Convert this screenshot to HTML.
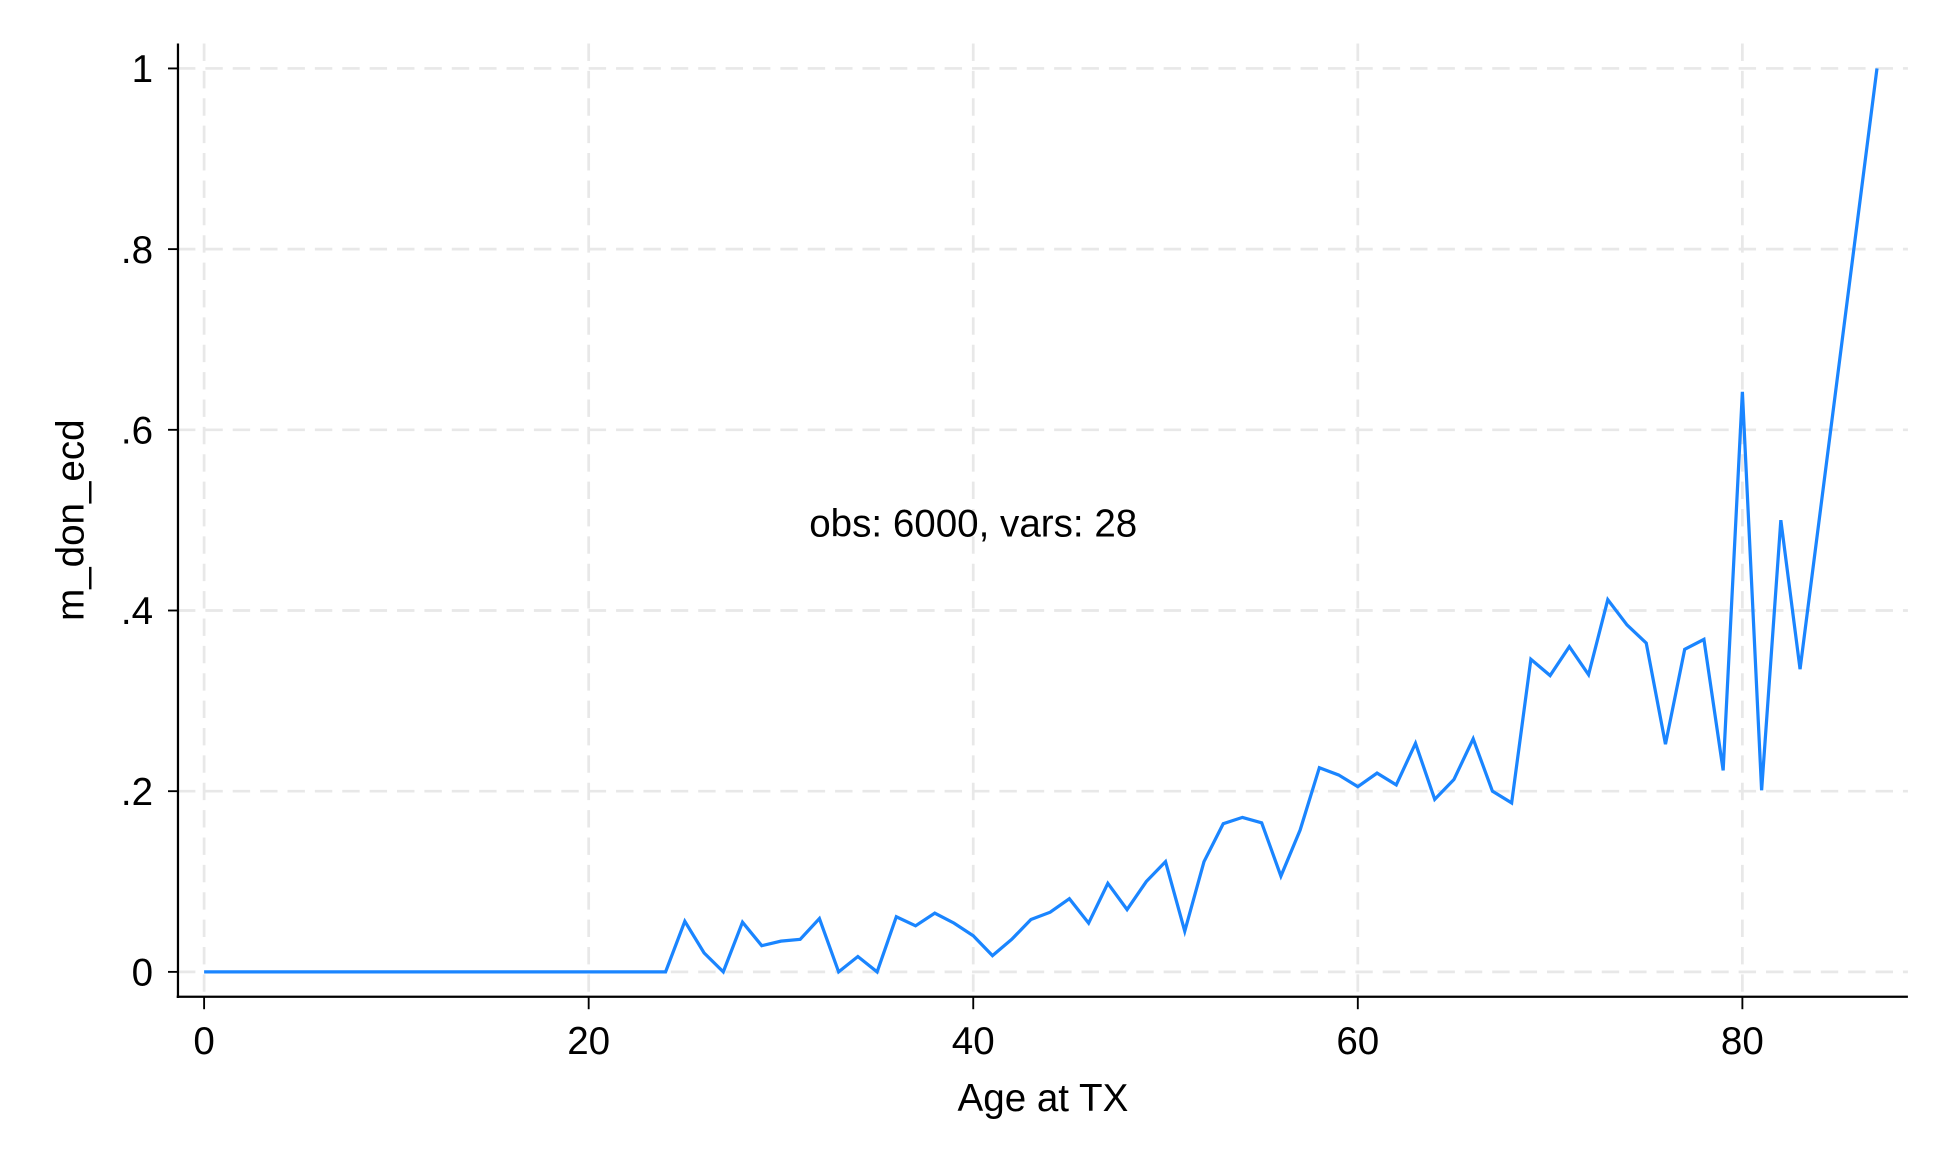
<!DOCTYPE html>
<html><head><meta charset="utf-8"><style>
html,body{margin:0;padding:0;background:#fff;}
svg{display:block;}
text{font-family:"Liberation Sans",Arial,sans-serif;fill:#000;}
</style></head><body>
<svg id="chart" width="1944" height="1166" viewBox="0 0 1562 937" preserveAspectRatio="none" xmlns="http://www.w3.org/2000/svg">
<g id="grid"></g>
<g id="axes"></g>
<path id="series" fill="none" stroke="#1a85ff" stroke-width="2.6" stroke-linejoin="miter"></path>
<text x="782" y="431" font-size="31" text-anchor="middle">obs: 6000, vars: 28</text>
<text x="838" y="893" font-size="31" text-anchor="middle">Age at TX</text>
<text x="0" y="0" font-size="31" text-anchor="middle" transform="translate(67,418) rotate(-90)">m_don_ecd</text>
</svg>
<script>
const ages = [0,1,2,3,4,5,6,7,8,9,10,11,12,13,14,15,16,17,18,19,20,21,22,23,24,25,26,27,28,29,30,31,32,33,34,35,36,37,38,39,40,41,42,43,44,45,46,47,48,49,50,51,52,53,54,55,56,57,58,59,60,61,62,63,64,65,66,67,68,69,70,71,72,73,74,75,76,77,78,79,80,81,82,83,87];
const values = [0,0,0,0,0,0,0,0,0,0,0,0,0,0,0,0,0,0,0,0,0,0,0,0,0,.056,.021,0,.055,.029,.034,.036,.059,0,.017,0,.061,.051,.065,.054,.040,.018,.036,.058,.066,.081,.054,.098,.069,.10,.122,.045,.122,.164,.171,.165,.106,.157,.226,.218,.205,.22,.207,.253,.191,.213,.258,.2,.187,.346,.328,.36,.329,.412,.384,.364,.252,.357,.368,.223,.642,.201,.5,.335,1.0];
const xTicks = [0,20,40,60,80];
const yTicks = [0,.2,.4,.6,.8,1];
const yTickLabels = ["0",".2",".4",".6",".8","1"];

const X0=164, XS=(1400-164)/80, Y0=781, YS=726;
function sx(v){return X0+v*XS;}
function sy(v){return Y0-v*YS;}
const NS="http://www.w3.org/2000/svg";
const grid=document.getElementById('grid'), axes=document.getElementById('axes');
function mk(tag,attrs,parent){const e=document.createElementNS(NS,tag);for(const k in attrs)e.setAttribute(k,attrs[k]);parent.appendChild(e);return e;}
const L=143,R=1533,T=35,B=801;
yTicks.forEach((t,i)=>{
  const g=mk('line',{x1:L,x2:R,y1:sy(t),y2:sy(t),stroke:'#e8e8e8','stroke-width':2.2,'stroke-dasharray':'14 8'},grid);
  
  
  const tk=mk('line',{x1:L-8,x2:L,y1:sy(t),y2:sy(t),stroke:'#000','stroke-width':1.5},axes);
  
  
  const tx=mk('text',{x:123,y:sy(t)+11,'font-size':31,'text-anchor':'end'},axes);
  tx.textContent=yTickLabels[i];
  
  
});
xTicks.forEach(t=>{
  const g=mk('line',{x1:sx(t),x2:sx(t),y1:T,y2:B,stroke:'#e8e8e8','stroke-width':2.2,'stroke-dasharray':'14 8'},grid);
  
  
  const tk=mk('line',{x1:sx(t),x2:sx(t),y1:B,y2:B+10,stroke:'#000','stroke-width':1.5},axes);
  
  
  const tx=mk('text',{x:sx(t),y:847,'font-size':31,'text-anchor':'middle'},axes);
  tx.textContent=String(t);
  
  
});
const ya=mk('line',{x1:L,x2:L,y1:T,y2:B+1,stroke:'#000','stroke-width':1.8},axes);


const xa=mk('line',{x1:L-1,x2:R,y1:B,y2:B,stroke:'#000','stroke-width':1.8},axes);


document.getElementById('series').setAttribute('d',ages.map((a,i)=>(i?'L':'M')+sx(a).toFixed(2)+' '+sy(values[i]).toFixed(2)).join(' '));
</script>
</body></html>
